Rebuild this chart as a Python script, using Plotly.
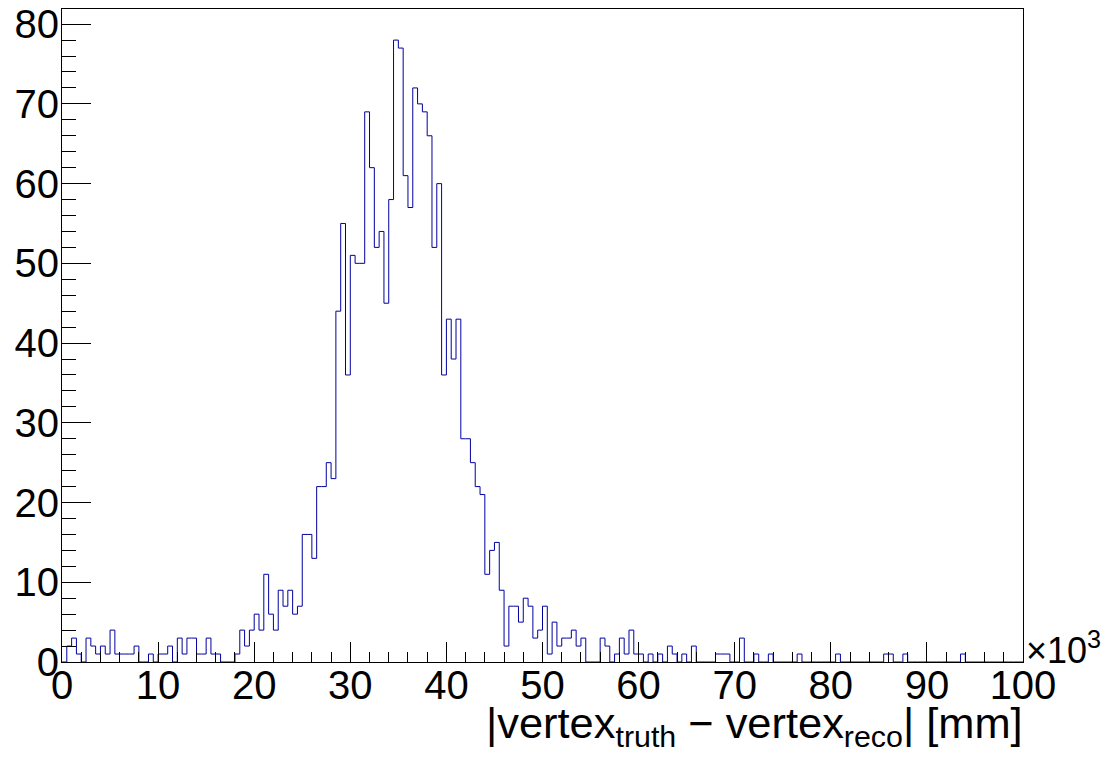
import numpy as np
import plotly.graph_objects as go

# histogram: 200 bins from 0 to 100 (x10^3 mm), bin width 0.5
bin_width = 0.5
n_bins = 200
counts = [
    0, 2, 3, 1, 0, 3, 2, 1, 2, 1,            # 0-9
    4, 1, 1, 1, 1, 2, 0, 0, 1, 0,            # 10-19
    1, 1, 2, 0, 3, 1, 3, 3, 1, 1,            # 20-29
    3, 1, 1, 0, 0, 0, 1, 4, 2, 4,            # 30-39
    6, 4, 11, 6, 4, 9, 7, 9, 6, 7,           # 40-49
    16, 16, 13, 22, 22, 25, 23, 44, 55, 36,  # 50-59
    51, 50, 50, 69, 62, 52, 54, 45, 58, 78,  # 60-69
    77, 61, 57, 72, 70, 69, 66, 52, 60, 36,  # 70-79
    43, 38, 43, 28, 28, 25, 22, 21, 11, 14,  # 80-89
    15, 9, 2, 7, 7, 5, 8, 7, 3, 4,           # 90-99
    7, 1, 5, 2, 3, 3, 4, 2, 3, 0,            # 100-109
    0, 0, 3, 2, 0, 1, 3, 1, 4, 1,            # 110-119
    1, 0, 1, 0, 1, 0, 2, 1, 0, 1,            # 120-129
    0, 2, 0, 0, 0, 0, 1, 1, 1, 0,            # 130-139
    0, 3, 0, 0, 1, 0, 0, 1, 0, 0,            # 140-149
    0, 0, 0, 1, 0, 0, 0, 0, 0, 0,            # 150-159
    0, 1, 0, 0, 0, 0, 0, 0, 0, 0,            # 160-169
    0, 1, 1, 0, 0, 1, 0, 0, 0, 0,            # 170-179
    0, 0, 0, 0, 0, 0, 0, 1, 0, 0,            # 180-189
    0, 0, 0, 0, 0, 0, 0, 0, 0, 0,            # 190-199
]
x_ticks = [0, 10, 20, 30, 40, 50, 60, 70, 80, 90, 100]
y_ticks = [0, 10, 20, 30, 40, 50, 60, 70, 80]

edges = np.arange(n_bins + 1) * bin_width
y_step = list(counts) + [counts[-1]]

fig = go.Figure()
fig.add_trace(go.Scatter(
    x=edges, y=y_step, mode="lines", line_shape="hv",
    line=dict(color="#0000a0", width=1), showlegend=False,
))

font_family = "Liberation Sans, Arial, sans-serif"
fig.update_layout(
    width=1105, height=762,
    margin=dict(l=62, r=82, t=9, b=100, autoexpand=False),
    paper_bgcolor="white", plot_bgcolor="white",
    font=dict(family=font_family, size=40, color="black"),
    xaxis=dict(
        range=[0, 100], tickvals=x_ticks, ticktext=[str(v) for v in x_ticks],
        showgrid=False, zeroline=False, showline=True, linecolor="black",
        linewidth=1, mirror=True, ticks="inside", ticklen=20, tickcolor="black",
        tickwidth=1, ticklabelstandoff=-12, automargin=False,
        minor=dict(dtick=2, ticks="inside", ticklen=10, tickcolor="black", tickwidth=1, showgrid=False),
        tickfont=dict(size=40),
    ),
    yaxis=dict(
        range=[0, 81.9], tickvals=y_ticks, ticktext=[str(v) for v in y_ticks],
        showgrid=False, zeroline=False, showline=True, linecolor="black",
        linewidth=1, mirror=True, ticks="inside", ticklen=29, tickcolor="black",
        tickwidth=1, ticklabelstandoff=-6, automargin=False,
        minor=dict(dtick=2, ticks="inside", ticklen=14, tickcolor="black", tickwidth=1, showgrid=False),
        tickfont=dict(size=40),
    ),
    annotations=[
        dict(text="\u00d710<sup>3</sup>", xref="paper", yref="paper", x=1.0, y=0.0,
             xanchor="left", yanchor="middle", xshift=1, yshift=14, showarrow=False,
             font=dict(size=36)),
        dict(text="|vertex<sub>truth</sub> \u2212 vertex<sub>reco</sub>| [mm]",
             xref="paper", yref="paper", x=1.0, y=0.0, xanchor="right", yanchor="top",
             yshift=-35, xshift=2, showarrow=False, font=dict(size=43.4)),
    ],
)

fig.write_html("out.html")
